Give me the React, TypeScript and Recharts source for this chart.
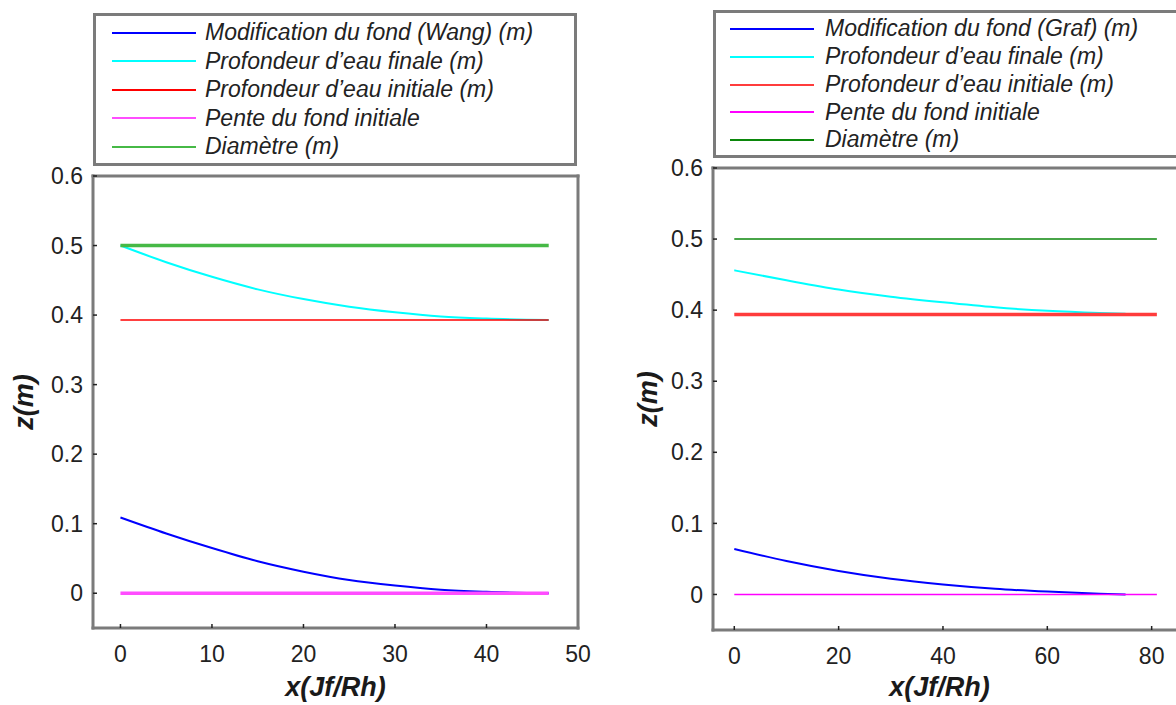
import React from "react";
import { LineChart, Line, XAxis, YAxis, Legend } from "recharts";

const FONT = '"Liberation Sans", Arial, Helvetica, sans-serif';

// left panel: Wang
const wangX = [0, 5, 10, 15, 20, 25, 30, 35, 40, 46.8];
const wangBed = [0.109, 0.086, 0.065, 0.046, 0.031, 0.019, 0.011, 0.005, 0.002, 0];
const wangFinal = [0.5, 0.476, 0.455, 0.437, 0.423, 0.412, 0.404, 0.398, 0.395, 0.393];
const wangInitial = [0.393, 0.393, 0.393, 0.393, 0.393, 0.393, 0.393, 0.393, 0.393, 0.393];
const wangSlope = [0, 0, 0, 0, 0, 0, 0, 0, 0, 0];
const wangDiameter = [0.5, 0.5, 0.5, 0.5, 0.5, 0.5, 0.5, 0.5, 0.5, 0.5];
const wangTicksX = [0, 10, 20, 30, 40, 50];
const wangNames = [
  "Modification du fond (Wang) (m)",
  "Profondeur d’eau finale (m)",
  "Profondeur d’eau initiale (m)",
  "Pente du fond initiale",
  "Diamètre (m)",
];

// right panel: Graf
const grafX = [0, 10, 20, 30, 40, 50, 60, 70, 75, 81];
const grafBed = [0.064, 0.047, 0.033, 0.022, 0.014, 0.008, 0.004, 0.001, 0, null];
const grafFinal = [0.456, 0.442, 0.429, 0.419, 0.411, 0.404, 0.399, 0.396, 0.395, null];
const grafInitial = [0.394, 0.394, 0.394, 0.394, 0.394, 0.394, 0.394, 0.394, 0.394, 0.394];
const grafSlope = [0, 0, 0, 0, 0, 0, 0, 0, 0, 0];
const grafDiameter = [0.5, 0.5, 0.5, 0.5, 0.5, 0.5, 0.5, 0.5, 0.5, 0.5];
const grafTicksX = [0, 20, 40, 60, 80];
const grafNames = [
  "Modification du fond (Graf) (m)",
  "Profondeur d’eau finale (m)",
  "Profondeur d’eau initiale (m)",
  "Pente du fond initiale",
  "Diamètre (m)",
];

const zTicks = [0, 0.1, 0.2, 0.3, 0.4, 0.5, 0.6];
const keys = ["bed", "final", "initial", "slope", "diameter"];

const wangData = wangX.map((x, i) => ({
  x,
  bed: wangBed[i],
  final: wangFinal[i],
  initial: wangInitial[i],
  slope: wangSlope[i],
  diameter: wangDiameter[i],
}));

const grafData = grafX.map((x, i) => ({
  x,
  bed: grafBed[i],
  final: grafFinal[i],
  initial: grafInitial[i],
  slope: grafSlope[i],
  diameter: grafDiameter[i],
}));

const wangStyles = [
  { color: "#0000ff", width: 2 },
  { color: "#00ffff", width: 2 },
  { color: "#ff0000", width: 1.5 },
  { color: "#ff4dff", width: 3.5 },
  { color: "#46b946", width: 3.5 },
];

const grafStyles = [
  { color: "#0000ff", width: 2 },
  { color: "#00ffff", width: 2 },
  { color: "#ff3c3c", width: 3.5 },
  { color: "#ff00ff", width: 1.5 },
  { color: "#0b870b", width: 1.5 },
];

const axisLine = { stroke: "#7b7b7b", strokeWidth: 3, strokeLinecap: "square" as const };
const tickLine = { stroke: "#222", strokeWidth: 1.5 };
const tickText = { fill: "#222", fontSize: 23, fontFamily: FONT };

const XTitle = ({ viewBox, text, baseline, dx }: any) => {
  const vb = viewBox ?? { x: 0, width: 0 };
  return (
    <text
      x={vb.x + vb.width / 2 + dx}
      y={baseline}
      textAnchor="middle"
      fontFamily={FONT}
      fontSize={27}
      fontWeight="bold"
      fontStyle="italic"
      fill="#1a1a1a"
    >
      {text}
    </text>
  );
};

const YTitle = ({ viewBox, text, dx }: any) => {
  const vb = viewBox ?? { x: 0, y: 0, width: 0, height: 0 };
  const cx = vb.x + vb.width + dx;
  const cy = vb.y + vb.height / 2;
  return (
    <text
      x={cx}
      y={cy}
      dy="0.26em"
      transform={`rotate(-90 ${cx} ${cy})`}
      textAnchor="middle"
      fontFamily={FONT}
      fontSize={27}
      fontWeight="bold"
      fontStyle="italic"
      fill="#1a1a1a"
    >
      {text}
    </text>
  );
};

const LegendBox = ({ payload, names, rowTop, rowH, lineX, lineW, textX }: any) => {
  const items = [...(payload ?? [])].sort(
    (a: any, b: any) => names.indexOf(a.value) - names.indexOf(b.value)
  );
  return (
    <div
      style={{
        position: "relative",
        width: "100%",
        height: "100%",
        boxSizing: "border-box",
        border: "3px solid #7b7b7b",
        background: "#fff",
      }}
    >
      {items.map((p: any, i: number) => (
        <div
          key={i}
          style={{
            position: "absolute",
            left: 0,
            top: rowTop + i * rowH - rowH / 2 - 3,
            height: rowH,
            width: "100%",
          }}
        >
          <div
            style={{
              position: "absolute",
              left: lineX - 3,
              top: rowH / 2 - 1,
              width: lineW,
              height: 2,
              background: p.color,
            }}
          />
          <span
            style={{
              position: "absolute",
              left: textX - 3,
              top: 0,
              lineHeight: `${rowH}px`,
              fontStyle: "italic",
              fontSize: 23,
              fontFamily: FONT,
              color: "#222",
              whiteSpace: "nowrap",
            }}
          >
            {p.value}
          </span>
        </div>
      ))}
    </div>
  );
};

const Panel = ({ data, names, styles, ticksX, xDomain, width, margin, legend, yTitleDx, xTitleDx }: any) => (
  <LineChart width={width} height={705} data={data} margin={margin}>
    <XAxis
      xAxisId="b"
      type="number"
      dataKey="x"
      domain={xDomain}
      ticks={ticksX}
      allowDataOverflow
      interval={0}
      height={70}
      tickSize={-4}
      tickMargin={22}
      axisLine={axisLine}
      tickLine={tickLine}
      tick={tickText}
      label={<XTitle text="x(Jf/Rh)" baseline={696} dx={xTitleDx} />}
    />
    <XAxis
      xAxisId="t"
      orientation="top"
      type="number"
      dataKey="x"
      domain={xDomain}
      ticks={ticksX}
      allowDataOverflow
      interval={0}
      height={1}
      tickSize={-4}
      axisLine={axisLine}
      tickLine={tickLine}
      tick={false}
    />
    <YAxis
      yAxisId="l"
      type="number"
      domain={[-0.05, 0.6]}
      ticks={zTicks}
      allowDataOverflow
      interval={0}
      width={1}
      tickSize={-4}
      tickMargin={14}
      axisLine={axisLine}
      tickLine={tickLine}
      tick={tickText}
      label={<YTitle text="z(m)" dx={yTitleDx} />}
    />
    <YAxis
      yAxisId="r"
      orientation="right"
      type="number"
      domain={[-0.05, 0.6]}
      ticks={zTicks}
      allowDataOverflow
      interval={0}
      width={1}
      tickSize={-4}
      axisLine={axisLine}
      tickLine={tickLine}
      tick={false}
    />
    {keys.map((k, i) => (
      <Line
        key={k}
        xAxisId="b"
        yAxisId="l"
        dataKey={k}
        name={names[i]}
        type={k === "bed" || k === "final" ? "monotone" : "linear"}
        stroke={styles[i].color}
        strokeWidth={styles[i].width}
        dot={false}
        activeDot={false}
        isAnimationActive={false}
      />
    ))}
    <Legend
      layout="vertical"
      align="center"
      verticalAlign="middle"
      wrapperStyle={legend.box}
      content={(props: any) => <LegendBox {...props} names={names} {...legend.rows} />}
    />
  </LineChart>
);

export default function App() {
  return (
    <div
      style={{
        position: "absolute",
        left: 0,
        top: 0,
        width: 1176,
        height: 705,
        overflow: "hidden",
        background: "#fff",
      }}
    >
      <div style={{ position: "absolute", left: 0, top: 0 }}>
        <Panel
          data={wangData}
          names={wangNames}
          styles={wangStyles}
          ticksX={wangTicksX}
          xDomain={[-3, 50]}
          width={600}
          margin={{ top: 175, left: 92, right: 21, bottom: 7 }}
          yTitleDx={-67}
          xTitleDx={0}
          legend={{
            box: { left: 93, top: 13, width: 484, height: 153 },
            rows: { rowTop: 19.7, rowH: 28.5, lineX: 19, lineW: 84, textX: 112 },
          }}
        />
      </div>
      <div style={{ position: "absolute", left: 600, top: 0 }}>
        <Panel
          data={grafData}
          names={grafNames}
          styles={grafStyles}
          ticksX={grafTicksX}
          xDomain={[-4.08, 88.5]}
          width={620}
          margin={{ top: 167, left: 112, right: 23, bottom: 5 }}
          yTitleDx={-63}
          xTitleDx={-15}
          legend={{
            box: { left: 113, top: 10, width: 520, height: 148 },
            rows: { rowTop: 19.3, rowH: 27.7, lineX: 17, lineW: 84, textX: 112 },
          }}
        />
      </div>
    </div>
  );
}
